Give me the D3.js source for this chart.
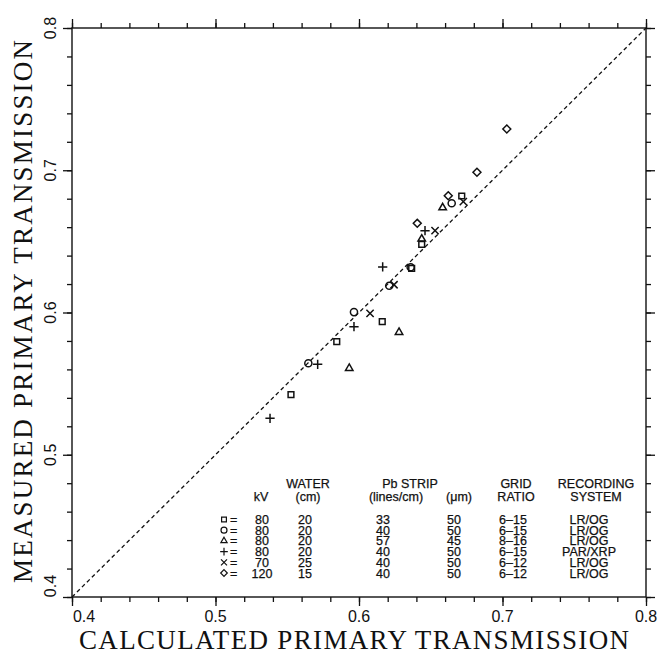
<!DOCTYPE html>
<html>
<head>
    <script src="https://d3js.org/d3.v7.min.js"></script>
    <style>
        body { margin: 0; background: #fff; }
        .tick-label { font-family: "Liberation Sans", Arial, sans-serif; font-size: 16px; fill: #111; }
        .table-text { font-family: "Liberation Sans", Arial, sans-serif; font-size: 12.5px; fill: #111; stroke: #111; stroke-width: 0.25px; }
        .axis-title { font-family: "Liberation Serif", "Times New Roman", serif; font-size: 27px; fill: #111; }
    </style>
</head>
<body>
    <svg width="665" height="660"></svg>
    <script>
        // data
        const symbolNames = ["square", "circle", "triangle", "plus", "cross", "diamond"];
        const squareX = [0.6716, 0.6437, 0.6367, 0.6162, 0.5845, 0.5526];
        const squareY = [0.6819, 0.6479, 0.6311, 0.5935, 0.5795, 0.5422];
        const circleX = [0.6646, 0.6360, 0.6211, 0.5965, 0.5647];
        const circleY = [0.6768, 0.6318, 0.6188, 0.6003, 0.5643];
        const triangleX = [0.6583, 0.6437, 0.6279, 0.5932];
        const triangleY = [0.6737, 0.6517, 0.5861, 0.5608];
        const plusX = [0.6460, 0.6165, 0.5965, 0.5712, 0.5380];
        const plusY = [0.6575, 0.6320, 0.5900, 0.5636, 0.5256];
        const crossX = [0.6727, 0.6530, 0.6244, 0.6077];
        const crossY = [0.6779, 0.6575, 0.6195, 0.5994];
        const diamondX = [0.7030, 0.6822, 0.6622, 0.6406];
        const diamondY = [0.7290, 0.6986, 0.6821, 0.6627];

        const majorTicks = [0.4, 0.5, 0.6, 0.7, 0.8];
        const minorTicks = d3.range(0, 21).map(i => 0.4 + i * 0.02);

        // legend table
        const kv = ["80", "80", "80", "80", "70", "120"];
        const water = ["20", "20", "20", "20", "25", "15"];
        const linesPerCm = ["33", "40", "57", "40", "40", "40"];
        const microns = ["50", "50", "45", "50", "50", "50"];
        const gridRatio = ["6\u201315", "6\u201315", "8\u201316", "6\u201315", "6\u201312", "6\u201312"];
        const recording = ["LR/OG", "LR/OG", "LR/OG", "PAR/XRP", "LR/OG", "LR/OG"];

        const series = [
            { name: "square", xs: squareX, ys: squareY },
            { name: "circle", xs: circleX, ys: circleY },
            { name: "triangle", xs: triangleX, ys: triangleY },
            { name: "plus", xs: plusX, ys: plusY },
            { name: "cross", xs: crossX, ys: crossY },
            { name: "diamond", xs: diamondX, ys: diamondY }
        ];

        const svg = d3.select("svg");
        const plotLeft = 72, plotRight = 646, plotTop = 28, plotBottom = 597;

        const x = d3.scaleLinear().domain([0.4, 0.8]).range([plotLeft, plotRight]);
        const y = d3.scaleLinear().domain([0.4, 0.8]).range([plotBottom, plotTop]);

        // frame
        svg.append("rect")
            .attr("x", plotLeft).attr("y", plotTop)
            .attr("width", plotRight - plotLeft).attr("height", plotBottom - plotTop)
            .attr("fill", "none").attr("stroke", "#111").attr("stroke-width", 1.4);

        // ticks on all four sides, pointing out
        function drawTicks(axisFn, scale, transform, vals, size) {
            svg.append("g")
                .attr("transform", transform)
                .call(axisFn(scale).tickValues(vals).tickSize(size).tickSizeOuter(0).tickFormat(""))
                .call(g => g.select(".domain").remove())
                .call(g => g.selectAll("line").attr("stroke", "#111").attr("stroke-width", 1.3));
        }
        drawTicks(d3.axisBottom, x, `translate(0,${plotBottom})`, minorTicks, 5);
        drawTicks(d3.axisBottom, x, `translate(0,${plotBottom})`, majorTicks, 9);
        drawTicks(d3.axisTop, x, `translate(0,${plotTop})`, minorTicks, 5);
        drawTicks(d3.axisTop, x, `translate(0,${plotTop})`, majorTicks, 9);
        drawTicks(d3.axisLeft, y, `translate(${plotLeft},0)`, minorTicks, 5);
        drawTicks(d3.axisLeft, y, `translate(${plotLeft},0)`, majorTicks, 9);
        drawTicks(d3.axisRight, y, `translate(${plotRight},0)`, minorTicks, 5);
        drawTicks(d3.axisRight, y, `translate(${plotRight},0)`, majorTicks, 9);

        // tick labels
        svg.append("g").selectAll("text")
            .data(majorTicks)
            .join("text")
            .attr("class", "tick-label")
            .attr("x", d => x(d) + (d === 0.4 ? 12 : 0))
            .attr("y", 622)
            .attr("text-anchor", "middle")
            .text(d => d3.format(".1f")(d));

        svg.append("g").selectAll("text")
            .data(majorTicks)
            .join("text")
            .attr("class", "tick-label")
            .attr("transform", d => `translate(56,${y(d) - (d === 0.4 ? 11 : 0)}) rotate(-90)`)
            .attr("text-anchor", "middle")
            .text(d => d3.format(".1f")(d));

        // axis titles
        svg.append("text")
            .attr("class", "axis-title")
            .attr("x", 79).attr("y", 649)
            .attr("textLength", 550).attr("lengthAdjust", "spacing")
            .text("CALCULATED PRIMARY TRANSMISSION");

        svg.append("text")
            .attr("class", "axis-title")
            .attr("transform", "translate(32,583) rotate(-90)")
            .attr("textLength", 543).attr("lengthAdjust", "spacing")
            .text("MEASURED PRIMARY TRANSMISSION");

        // identity line
        svg.append("line")
            .attr("x1", x(0.4)).attr("y1", y(0.4))
            .attr("x2", x(0.8)).attr("y2", y(0.8))
            .attr("stroke", "#111").attr("stroke-width", 1.3)
            .attr("stroke-dasharray", "4,3");

        // markers
        const symbolType = {
            square: d3.symbolSquare2, circle: d3.symbolCircle, triangle: d3.symbolTriangle2,
            plus: d3.symbolPlus, cross: d3.symbolTimes, diamond: d3.symbolDiamond2
        };
        const symbolSize = { square: 42, circle: 40, triangle: 40, plus: 30, cross: 36, diamond: 40 };
        const sym = name => d3.symbol().type(symbolType[name]).size(symbolSize[name])();

        series.forEach(s => {
            svg.append("g").selectAll("path")
                .data(s.xs.map((v, i) => ({ cx: v, cy: s.ys[i] })))
                .join("path")
                .attr("transform", d => `translate(${x(d.cx)},${y(d.cy)})`)
                .attr("d", sym(s.name))
                .attr("fill", "none")
                .attr("stroke", "#111")
                .attr("stroke-width", 1.5);
        });

        // legend table
        const cols = [
            { head1: "", head2: "kV", vals: kv, hx: 261, cx: 262 },
            { head1: "WATER", head2: "(cm)", vals: water, hx: 308, cx: 305 },
            { head1: "", head2: "(lines/cm)", vals: linesPerCm, hx: 396, cx: 383 },
            { head1: "", head2: "(\u03bcm)", vals: microns, hx: 459, cx: 454 },
            { head1: "GRID", head2: "RATIO", vals: gridRatio, hx: 516, cx: 513 },
            { head1: "RECORDING", head2: "SYSTEM", vals: recording, hx: 596, cx: 589 }
        ];
        const head1Y = 488, head2Y = 501, rowY0 = 524, rowStep = 10.7;

        svg.append("text").attr("class", "table-text")
            .attr("x", 410).attr("y", head1Y).attr("text-anchor", "middle")
            .text("Pb  STRIP");

        cols.forEach(c => {
            const g = svg.append("g").attr("class", "table-text").attr("text-anchor", "middle");
            g.append("text").attr("x", c.hx).attr("y", head1Y).text(c.head1);
            g.append("text").attr("x", c.hx).attr("y", head2Y).text(c.head2);
            g.selectAll("text.v")
                .data(c.vals)
                .join("text")
                .attr("class", "v")
                .attr("x", c.cx)
                .attr("y", (d, i) => rowY0 + i * rowStep)
                .text(d => d);
        });

        const legendRows = svg.append("g").selectAll("g")
            .data(symbolNames)
            .join("g")
            .attr("transform", (d, i) => `translate(224,${rowY0 + i * rowStep - 4.5})`);
        legendRows.append("path")
            .attr("d", d => d3.symbol().type(symbolType[d]).size(symbolSize[d] * 0.7)())
            .attr("fill", "none").attr("stroke", "#111").attr("stroke-width", 1.2);
        legendRows.append("text")
            .attr("class", "table-text")
            .attr("x", 6).attr("y", 4.5)
            .text("=");
    </script>
</body>
</html>
